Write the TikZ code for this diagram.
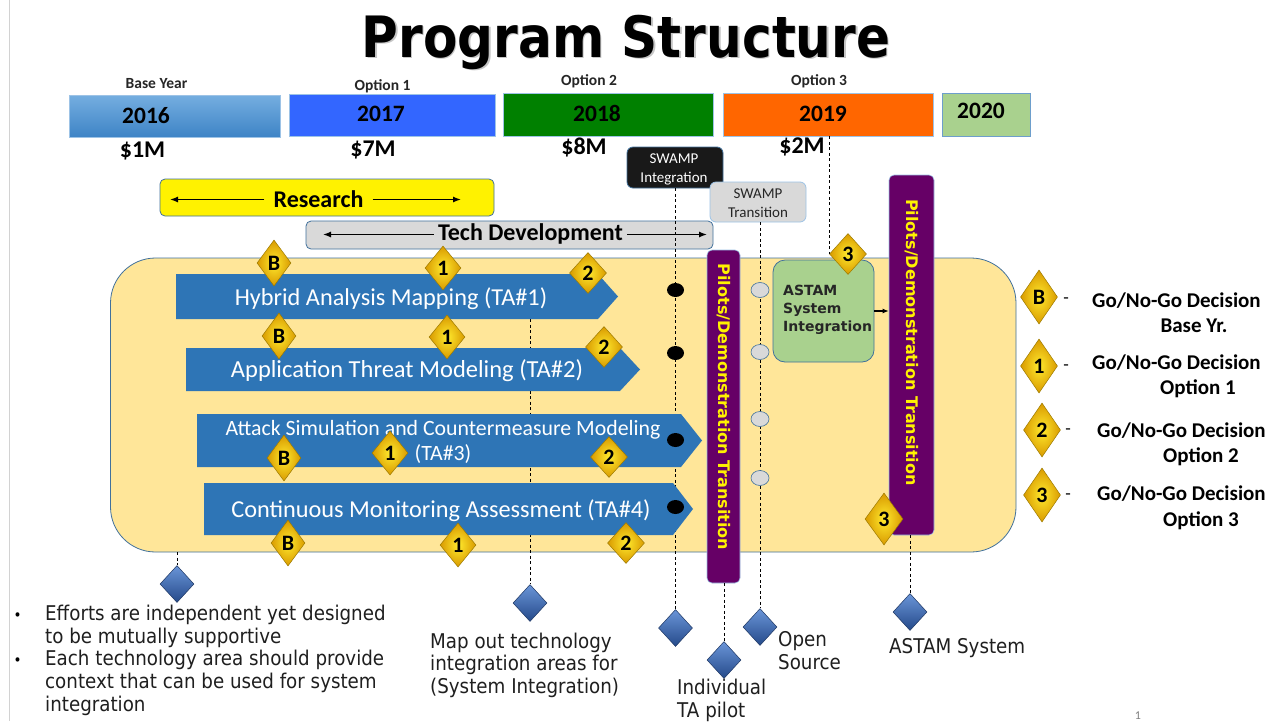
\documentclass[tikz,border=0pt]{standalone}
\usepackage{fontspec}
\setmainfont{Carlito}
\newfontfamily\dvs{DejaVu Sans}
\newfontfamily\tah[FakeStretch=0.9]{DejaVu Sans}
\newfontfamily\tahb[FakeStretch=0.88]{DejaVu Sans}
\usetikzlibrary{shapes.geometric,arrows.meta}
\definecolor{panelfill}{HTML}{FFE699}
\definecolor{bord}{HTML}{41719C}
\definecolor{tablue}{HTML}{2E75B6}
\definecolor{purp}{HTML}{660066}
\definecolor{goldA}{HTML}{FFEA2E}
\definecolor{goldB}{HTML}{D99A00}
\definecolor{goldE}{HTML}{9C7A00}
\definecolor{bdA}{HTML}{6A95D8}
\definecolor{bdB}{HTML}{254A8A}
\definecolor{bdE}{HTML}{1F3864}
\definecolor{ytopA}{HTML}{75AEE0}
\definecolor{ytopB}{HTML}{3E84C6}
\definecolor{yseventeen}{HTML}{3366FF}
\definecolor{yeighteen}{HTML}{008000}
\definecolor{ynineteen}{HTML}{FF6600}
\definecolor{ytwenty}{HTML}{A9D18E}
\definecolor{ybord}{HTML}{9DC3E6}
\definecolor{lgray}{HTML}{D9D9D9}
\definecolor{dtext}{HTML}{262626}
\tikzset{
  fsz/.style={font=\fontsize{#1}{#1}\selectfont},
  fszb/.style={font=\fontsize{#1}{#1}\selectfont\bfseries},
  tahf/.style={font=\tah\fontsize{20.3}{23}\selectfont, anchor=base west, inner sep=0pt, text=black!88},
  gdia/.style={diamond, draw=goldE, line width=0.5pt, inner color=goldA, outer color=goldB, inner sep=0pt, minimum width=34pt, minimum height=46pt, font=\fontsize{22}{22}\selectfont\bfseries},
  gone/.style={gdia, minimum width=36pt, minimum height=44pt},
  gtwo/.style={gdia, minimum width=37pt, minimum height=41pt},
  glg/.style={gdia, minimum width=37pt, minimum height=54pt},
  bdia/.style={diamond, draw=bdE, line width=0.5pt, top color=bdA, bottom color=bdB, inner sep=0pt, minimum width=34pt, minimum height=37pt},
  dl/.style={line width=0.7pt, dash pattern=on 3pt off 2.5pt},
  ar/.style={line width=1.3pt, -{Latex[length=8pt,width=6pt]}},
  yb/.style={draw=ybord, line width=0.8pt, inner sep=0pt},
  lgt/.style={fszb=21, inner sep=0pt},
}
\begin{document}
\begin{tikzpicture}[x=1pt,y=-1pt]
\useasboundingbox (0,0) rectangle (1282,721);
\fill[white] (0,0) rectangle (1282,721);
\draw[gray!35, line width=0.8pt] (9,0) -- (9,721);

% title
\node[anchor=base, text=gray!45, font=\tahb\fontsize{57}{57}\selectfont\bfseries, inner sep=0pt] (titlesh) at (627.5,58.5) {Program Structure};
\node[anchor=base, font=\tahb\fontsize{57}{57}\selectfont\bfseries, inner sep=0pt] (title) at (626,57) {Program Structure};

% year boxes
\node[yb, top color=ytopA, bottom color=ytopB, minimum width=211pt, minimum height=42pt] (y16) at (174.5,116) {};
\node[yb, fill=yseventeen, minimum width=206pt, minimum height=42pt] (y17) at (392,115) {};
\node[yb, fill=yeighteen, minimum width=210pt, minimum height=43pt] (y18) at (608,114.5) {};
\node[yb, fill=ynineteen, minimum width=210pt, minimum height=43pt] (y19) at (828,114.5) {};
\node[yb, fill=ytwenty, draw=tablue!70, minimum width=88pt, minimum height=43pt] (y20) at (986,114.5) {};

\node[anchor=base, fszb=23.5, inner sep=0pt] (t16) at (146,123) {2016};
\node[anchor=base, fszb=23.5, inner sep=0pt] (t17) at (381,121) {2017};
\node[anchor=base, fszb=23.5, inner sep=0pt] (t18) at (597,121) {2018};
\node[anchor=base, fszb=23.5, inner sep=0pt] (t19) at (823,121) {2019};
\node[anchor=base, fszb=23.5, inner sep=0pt] (t20) at (981,118) {2020};

\node[anchor=base, fszb=15.5, inner sep=0pt, text=dtext] (o16) at (156.5,88) {Base Year};
\node[anchor=base, fszb=15.5, inner sep=0pt, text=dtext] (o17) at (382.5,90) {Option 1};
\node[anchor=base, fszb=15.5, inner sep=0pt, text=dtext] (o18) at (589,85) {Option 2};
\node[anchor=base, fszb=15.5, inner sep=0pt, text=dtext] (o19) at (819,85) {Option 3};

\node[anchor=base, fszb=24, inner sep=0pt] (m16) at (142.5,157) {\$1M};
\node[anchor=base, fszb=24, inner sep=0pt] (m17) at (373,156) {\$7M};
\node[anchor=base, fszb=24, inner sep=0pt] (m18) at (584,154) {\$8M};
\node[anchor=base, fszb=24, inner sep=0pt] (m19) at (802,153) {\$2M};

% panel
\node[draw=bord, fill=panelfill, line width=0.8pt, rounded corners=45pt, minimum width=905.5pt, minimum height=294pt, inner sep=0pt] (panel) at (563.25,405) {};

% research
\node[draw=bord, fill=yellow, rounded corners=5pt, line width=0.8pt, minimum width=334pt, minimum height=37pt, inner sep=0pt] (resbox) at (327,197.5) {};
\node[anchor=base, fszb=24, inner xsep=9pt, inner ysep=0pt] (restxt) at (318.5,207) {Research};
\coordinate (resL) at (170,199.5);
\coordinate (resR) at (461,199.5);
\draw[ar] (restxt.west |- resL) -- (resL);
\draw[ar] (restxt.east |- resR) -- (resR);

% tech development
\node[draw=bord, fill=lgray, rounded corners=5pt, line width=0.8pt, minimum width=407pt, minimum height=28pt, inner sep=0pt] (techbox) at (509.5,235) {};
\node[anchor=base, fszb=24, inner xsep=4pt, inner ysep=0pt] (techtxt) at (530.5,240) {Tech Development};
\coordinate (tecL) at (323,234.5);
\coordinate (tecR) at (707,234.5);
\draw[ar] (techtxt.west |- tecL) -- (tecL);
\draw[ar] (techtxt.east |- tecR) -- (tecR);

% SWAMP boxes
\node[draw=bord, fill=black!90, rounded corners=6pt, line width=0.8pt, minimum width=96pt, minimum height=41pt, inner sep=0pt] (swi) at (675,167.5) {};
\node[anchor=base, fsz=15, text=white, inner sep=0pt] (swi1) at (674,163) {SWAMP};
\node[anchor=base, fsz=15, text=white, inner sep=0pt] (swi2) at (674,182) {Integration};
\node[draw=ybord, fill=lgray, rounded corners=6pt, line width=0.8pt, minimum width=96pt, minimum height=40pt, inner sep=0pt] (swt) at (758,202) {};
\node[anchor=base, fsz=15, text=dtext, inner sep=0pt] (swt1) at (758,198) {SWAMP};
\node[anchor=base, fsz=15, text=dtext, inner sep=0pt] (swt2) at (758,217) {Transition};

% blue diamonds
\node[bdia] (bd1) at (177,584) {};
\node[bdia] (bd2) at (530,603) {};
\node[bdia] (bd3) at (675.5,628) {};
\node[bdia] (bd4) at (724,660) {};
\node[bdia] (bd5) at (760,627) {};
\node[bdia] (bd6) at (910,612) {};

% dashed lines behind the arrows
\coordinate (ta1b) at (530,319);
\draw[dl] (bd1.north |- panel.south) -- (bd1.north);
\draw[dl] (ta1b) -- (bd2.north);
\draw[dl] (bd3.north |- swi.south) -- (bd3.north);
\draw[dl] (bd5.north |- swt.south) -- (bd5.north);

% technology area arrows
\fill[tablue] (176,274) -- (598,274) -- (618,296.5) -- (598,319) -- (176,319) -- cycle;
\fill[tablue] (186,348) -- (620,348) -- (640,369.5) -- (620,391) -- (186,391) -- cycle;
\fill[tablue] (197,414) -- (681,414) -- (702,440.5) -- (681,467) -- (197,467) -- cycle;
\fill[tablue] (204,483) -- (673,483) -- (693,509) -- (673,535) -- (204,535) -- cycle;
\node[anchor=base, fsz=24.3, text=white, inner sep=0pt] (ta1) at (391,305) {Hybrid Analysis Mapping (TA\#1)};
\node[anchor=base, fsz=24.5, text=white, inner sep=0pt] (ta2) at (407,377) {Application Threat Modeling (TA\#2)};
\node[anchor=base, fsz=21.8, text=white, inner sep=0pt] (ta3a) at (443,435) {Attack Simulation and Countermeasure Modeling};
\node[anchor=base, fsz=21.8, text=white, inner sep=0pt] (ta3b) at (443,460) {(TA\#3)};
\node[anchor=base, fsz=24.3, text=white, inner sep=0pt] (ta4) at (441,517) {Continuous Monitoring Assessment (TA\#4)};

% pilots bars
\node[fill=purp, draw=ybord, line width=0.6pt, rounded corners=5pt, minimum width=33pt, minimum height=333pt, inner sep=0pt] (bar1) at (723.5,416.5) {};
\node[rotate=-90, text=yellow, font=\dvs\bfseries\fontsize{16}{16}\selectfont, inner sep=0pt] (bar1t) at (723.5,407) {Pilots/Demonstration Transition};
\node[fill=purp, draw=ybord, line width=0.6pt, rounded corners=5pt, minimum width=45pt, minimum height=360pt, inner sep=0pt] (bar2) at (911.5,355) {};
\node[rotate=-90, text=yellow, font=\dvs\bfseries\fontsize{16}{16}\selectfont, inner sep=0pt] (bar2t) at (911.5,342.5) {Pilots/Demonstration Transition};
\draw[dl] (bd4.north |- bar1.south) -- (bd4.north);
\draw[dl] (bd6.north |- bar2.south) -- (bd6.north);

% dots
\foreach \n/\yy in {1/290,2/353,3/440,4/507} {
  \node[ellipse, fill=black, minimum width=17pt, minimum height=14pt, inner sep=0pt] (k\n) at (675.5,\yy) {};
}
\foreach \n/\yy in {1/290,2/352,3/419,4/478} {
  \node[ellipse, draw=bord, fill=lgray, line width=0.6pt, minimum width=18pt, minimum height=15pt, inner sep=0pt] (c\n) at (760,\yy) {};
}

% ASTAM box
\node[draw=bord, fill=ytwenty, rounded corners=12pt, line width=0.8pt, minimum width=101pt, minimum height=102pt, inner sep=0pt] (astam) at (823.5,311) {};
\node[anchor=base west, font=\dvs\bfseries\fontsize{14}{14}\selectfont, text=dtext, inner sep=0pt] (as1) at (783,295) {ASTAM};
\node[anchor=base west, font=\dvs\bfseries\fontsize{14}{14}\selectfont, text=dtext, inner sep=0pt] (as2) at (783,313) {System};
\node[anchor=base west, font=\dvs\bfseries\fontsize{14}{14}\selectfont, text=dtext, inner sep=0pt] (as3) at (783,331) {Integration};
\draw[line width=1.3pt, -{Latex[length=6pt,width=5pt]}] (astam.east) -- (astam.east -| bar2.west);

% gold diamonds
\node[gdia] (gB1) at (274,263) {B};
\node[gone] (g11) at (443,268) {1};
\node[gtwo] (g21) at (588,273) {2};
\node[gdia] (gB2) at (279,336) {B};
\node[gone] (g12) at (447,337) {1};
\node[gtwo] (g22) at (604,347) {2};
\node[gdia] (gB3) at (284,458) {B};
\node[gone] (g13) at (390,453) {1};
\node[gtwo] (g23) at (609,457) {2};
\node[gdia] (gB4) at (288,543) {B};
\node[gone] (g14) at (458,545) {1};
\node[gtwo] (g24) at (626,543) {2};
\node[gtwo] (d3a) at (848,254) {3};
\node[gdia, minimum width=38pt, minimum height=52pt] (d3b) at (884,519) {3};
\draw[dl] (y19.south -| d3a.west) -- (d3a.west);

% legend
\node[glg] (lB) at (1039,297) {B};
\node[glg] (l1) at (1039,366) {1};
\node[glg] (l2) at (1042,430) {2};
\node[glg] (l3) at (1042,495) {3};
\node[anchor=base, fsz=18, inner sep=0pt] (ld1) at (1066,303) {-};
\node[anchor=base, fsz=18, inner sep=0pt] (ld2) at (1066,370) {-};
\node[anchor=base, fsz=18, inner sep=0pt] (ld3) at (1068,434) {-};
\node[anchor=base, fsz=18, inner sep=0pt] (ld4) at (1068,499) {-};
\node[anchor=base west, lgt] (lg1a) at (1092,307) {Go/No-Go Decision};
\node[anchor=base, lgt] (lg1b) at (1194,332) {Base Yr.};
\node[anchor=base west, lgt] (lg2a) at (1092,369) {Go/No-Go Decision};
\node[anchor=base, lgt] (lg2b) at (1198,394) {Option 1};
\node[anchor=base west, lgt] (lg3a) at (1097,437) {Go/No-Go Decision};
\node[anchor=base, lgt] (lg3b) at (1201,462) {Option 2};
\node[anchor=base west, lgt] (lg4a) at (1097,500) {Go/No-Go Decision};
\node[anchor=base, lgt] (lg4b) at (1201,526) {Option 3};

% bottom texts
\node[anchor=base, font=\tah\fontsize{15}{15}\selectfont, inner sep=0pt] (bu1) at (17.5,620) {•};
\node[anchor=base, font=\tah\fontsize{15}{15}\selectfont, inner sep=0pt] (bu2) at (17.5,665) {•};
\node[tahf] (b1) at (45,620) {Efforts are independent yet designed};
\node[tahf] (b2) at (45,643) {to be mutually supportive};
\node[tahf] (b3) at (45,665) {Each technology area should provide};
\node[tahf] (b4) at (45,688) {context that can be used for system};
\node[tahf] (b5) at (45,711) {integration};
\node[tahf] (mp1) at (430,648) {Map out technology};
\node[tahf] (mp2) at (430,670) {integration areas for};
\node[tahf] (mp3) at (430,693) {(System Integration)};
\node[tahf] (iv1) at (677,694) {Individual};
\node[tahf] (iv2) at (677,717) {TA pilot};
\node[tahf] (op1) at (778,646) {Open};
\node[tahf] (op2) at (778,669) {Source};
\node[tahf] (asy) at (889,653) {ASTAM System};
\node[fsz=12, text=gray, inner sep=0pt] (pg) at (1138,716) {1};
\end{tikzpicture}
\end{document}
